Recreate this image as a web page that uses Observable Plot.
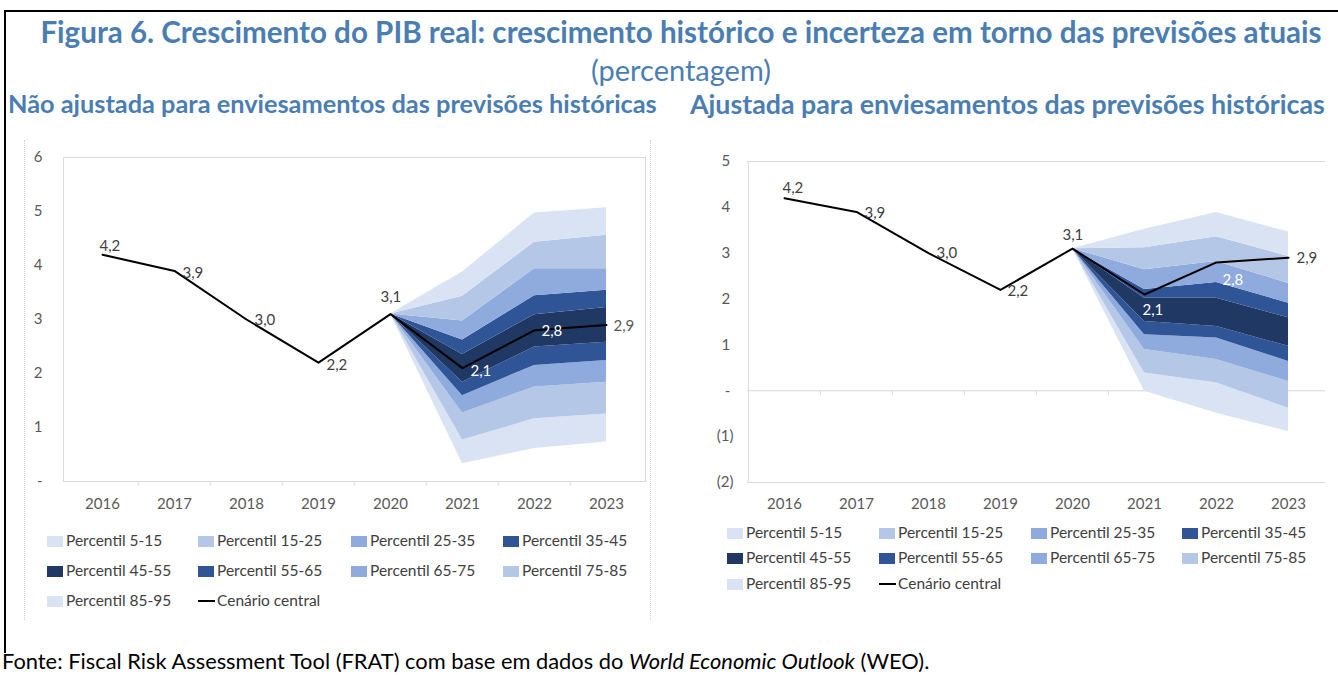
<!DOCTYPE html>
<html>
<head>
<meta charset="utf-8">
<script src="https://cdn.jsdelivr.net/npm/d3@7"></script>
<script src="https://cdn.jsdelivr.net/npm/@observablehq/plot@0.6"></script>
<style>
  html, body { margin:0; padding:0; background:#fff; }
  #root { position:relative; width:1338px; height:675px; overflow:hidden; background:#fff; font-family: Lato, "Open Sans", sans-serif; }
  .t { position:absolute; white-space:nowrap; line-height:1.15; }
  .leg { position:absolute; font-size:15.5px; color:#404040; white-space:nowrap; line-height:1.15; }
</style>
</head>
<body>
<div id="root"></div>
<script>
// ---------------- DATA ----------------
const years = [2016, 2017, 2018, 2019, 2020, 2021, 2022, 2023];
const central = [4.2, 3.9, 3.0, 2.2, 3.1, 2.1, 2.8, 2.9];
const fanYears = [2020, 2021, 2022, 2023];

// Left chart: not adjusted for historical forecast bias (percentile edges)
const leftP5  = [3.1, 0.33, 0.61, 0.73];
const leftP15 = [3.1, 0.77, 1.16, 1.25];
const leftP25 = [3.1, 1.27, 1.75, 1.84];
const leftP35 = [3.1, 1.59, 2.15, 2.24];
const leftP45 = [3.1, 1.84, 2.49, 2.58];
const leftP55 = [3.1, 2.35, 3.09, 3.22];
const leftP65 = [3.1, 2.62, 3.44, 3.54];
const leftP75 = [3.1, 2.97, 3.94, 3.94];
const leftP85 = [3.1, 3.43, 4.43, 4.56];
const leftP95 = [3.1, 3.88, 4.97, 5.07];

// Right chart: adjusted for historical forecast bias
const rightP5  = [3.1, -0.01, -0.49, -0.89];
const rightP15 = [3.1, 0.39, 0.17, -0.38];
const rightP25 = [3.1, 0.90, 0.68, 0.20];
const rightP35 = [3.1, 1.22, 1.15, 0.64];
const rightP45 = [3.1, 1.51, 1.40, 0.97];
const rightP55 = [3.1, 2.02, 2.02, 1.59];
const rightP65 = [3.1, 2.21, 2.36, 1.91];
const rightP75 = [3.1, 2.64, 2.82, 2.34];
const rightP85 = [3.1, 3.12, 3.36, 2.93];
const rightP95 = [3.1, 3.52, 3.89, 3.46];

const bandLabels = ["Percentil 5-15", "Percentil 15-25", "Percentil 25-35", "Percentil 35-45",
  "Percentil 45-55", "Percentil 55-65", "Percentil 65-75", "Percentil 75-85", "Percentil 85-95"];
const lineLabel = "Cenário central";
const leftYTicks = [0, 1, 2, 3, 4, 5, 6];
const rightYTicks = [-2, -1, 0, 1, 2, 3, 4, 5];

const titleText = "Figura 6. Crescimento do PIB real: crescimento histórico e incerteza em torno das previsões atuais";
const unitText = "(percentagem)";
const leftTitle = "Não ajustada para enviesamentos das previsões históricas";
const rightTitle = "Ajustada para enviesamentos das previsões históricas";
const sourceHtml = "Fonte: Fiscal Risk Assessment Tool (FRAT) com base em dados do <i>World Economic Outlook</i> (WEO).";

// ---------------- STYLE ----------------
const bandColors = ["#dae3f3", "#b4c7e7", "#8faadc", "#2f5597", "#203864", "#2f5597", "#8faadc", "#b4c7e7", "#dae3f3"];
const titleColor = "#4a7eb3";
const textGray = "#595959";
const font = "Lato, 'Open Sans', sans-serif";

const root = document.getElementById("root");

function addText(html, opts) {
  const d = document.createElement("div");
  d.className = "t";
  d.innerHTML = html;
  Object.assign(d.style, opts.style || {});
  root.appendChild(d);
  if (opts.width) {
    let fs = parseFloat(d.style.fontSize);
    const w = d.getBoundingClientRect().width;
    d.style.fontSize = (fs * opts.width / w) + "px";
  }
  const r = d.getBoundingClientRect();
  const left = opts.cx !== undefined ? opts.cx - r.width / 2 : opts.x;
  d.style.left = left + "px";
  d.style.top = (opts.cy - r.height / 2) + "px";
  return d;
}

function addDiv(style) {
  const d = document.createElement("div");
  d.style.position = "absolute";
  Object.assign(d.style, style);
  root.appendChild(d);
  return d;
}

// outer border
addDiv({left: "4px", top: "10px", width: "1340px", height: "2px", background: "#000"});
addDiv({left: "4px", top: "10px", width: "2px", height: "643px", background: "#000"});
// faint dotted chart-area borders (left chart)
addDiv({left: "24px", top: "140px", width: "0px", height: "480px", borderLeft: "1px dotted #d0d0d0"});
addDiv({left: "650px", top: "140px", width: "0px", height: "480px", borderLeft: "1px dotted #d0d0d0"});

// titles
addText(titleText, {cx: 681, cy: 32, width: 1282, style: {fontSize: "24px", fontWeight: "700", color: titleColor}});
addText(unitText, {cx: 681, cy: 70, width: 180, style: {fontSize: "22px", fontWeight: "400", color: titleColor}});
addText(leftTitle, {x: 8, cy: 104, width: 649, style: {fontSize: "21px", fontWeight: "700", color: titleColor}});
addText(rightTitle, {x: 690, cy: 104, width: 635, style: {fontSize: "21px", fontWeight: "700", color: titleColor}});
addText(sourceHtml, {x: 2, cy: 661, width: 928, style: {fontSize: "17px", color: "#000"}});

const yearFmt = d => String(d);
const valueFmt = v => d3.format(".1f")(v).replace(".", ",");

function makeChart(cfg) {
  const {edges, yDomain, yTicks, yFormat, width, height, marginLeft, marginRight, marginTop, marginBottom,
         labelPlacement, yPad, xPad, fullFrame, zeroLine} = cfg;
  const step = (width - marginLeft - marginRight) / years.length;
  const marks = [];
  if (fullFrame) marks.push(Plot.frame({stroke: "#d9d9d9"}));
  else {
    marks.push(Plot.ruleY([yDomain[0], yDomain[1]], {stroke: "#d9d9d9"}));
    marks.push(Plot.ruleX([years[0]], {x: d => d, dx: -step / 2, stroke: "#d9d9d9"}));
  }
  if (zeroLine) marks.push(Plot.ruleY([0], {stroke: "#d9d9d9"}));
  const axisY0 = zeroLine ? 0 : yDomain[0];
  marks.push(Plot.ruleX(years.slice(1).map(x => ({x, y: axisY0})),
    {x: "x", y1: "y", y2: "y", dx: -step / 2, insetBottom: -5, stroke: "#d9d9d9"}));
  for (let i = 0; i < 9; i++) {
    const rows = fanYears.map((x, j) => ({x, lo: edges[i][j], hi: edges[i + 1][j]}));
    marks.push(Plot.areaY(rows, {x: "x", y1: "lo", y2: "hi", fill: bandColors[i], curve: "linear"}));
  }
  const lineRows = years.map((x, i) => ({x, y: central[i]}));
  marks.push(Plot.line(lineRows, {x: "x", y: "y", stroke: "#000", strokeWidth: 2, curve: "linear"}));
  lineRows.forEach((d, i) => {
    const p = labelPlacement[i];
    marks.push(Plot.text([d], {
      x: "x", y: "y", text: r => valueFmt(r.y),
      dx: p[0], dy: p[1], textAnchor: "start", fill: p[2], fontSize: 15
    }));
  });
  marks.push(Plot.axisX({tickSize: 0, tickPadding: xPad, fontSize: 15, tickFormat: yearFmt, label: null}));
  marks.push(Plot.axisY({ticks: yTicks, tickFormat: yFormat, tickSize: 0, tickPadding: yPad, fontSize: 15, label: null}));
  return Plot.plot({
    width, height, marginLeft, marginRight, marginTop, marginBottom,
    x: {type: "point", domain: years, padding: 0.5, label: null},
    y: {domain: yDomain, label: null},
    style: {fontFamily: font, fontSize: "15px", color: textGray, background: "transparent", overflow: "visible"},
    marks
  });
}

// label placement: [dx, dy, colour]
const leftPlacement = [
  [-3, -9, "#404040"], [8, 2, "#404040"], [8, 1, "#404040"], [8, 2, "#404040"],
  [-10, -17, "#404040"], [8, 3, "#ffffff"], [7, 1, "#ffffff"], [7, 1, "#595959"]
];
const rightPlacement = [
  [-2, -10, "#404040"], [8, 1, "#404040"], [8, 0, "#404040"], [7, 1, "#404040"],
  [-10, -13, "#404040"], [-2, 16, "#ffffff"], [6, 18, "#ffffff"], [8, 0, "#404040"]
];

function fmtLeft(d) { return d === 0 ? "-" : String(d); }
function fmtRight(d) { return d === 0 ? "-\u2008" : d < 0 ? "(" + (-d) + ")" : d + "\u2008"; }

function buildChart(cfg, left, top) {
  const svg = makeChart(cfg);
  svg.style.position = "absolute";
  svg.style.left = left + "px";
  svg.style.top = top + "px";
  root.appendChild(svg);
}

buildChart({
  edges: [leftP5, leftP15, leftP25, leftP35, leftP45, leftP55, leftP65, leftP75, leftP85, leftP95],
  yDomain: [0, 6], yTicks: leftYTicks, yFormat: fmtLeft,
  width: 660, height: 390, marginLeft: 63, marginRight: 15, marginTop: 27, marginBottom: 39,
  labelPlacement: leftPlacement, yPad: 21, xPad: 17, fullFrame: true, zeroLine: false
}, 0, 130);

buildChart({
  edges: [rightP5, rightP15, rightP25, rightP35, rightP45, rightP55, rightP65, rightP75, rightP85, rightP95],
  yDomain: [-2, 5], yTicks: rightYTicks, yFormat: fmtRight,
  width: 658, height: 390, marginLeft: 67, marginRight: 13, marginTop: 31, marginBottom: 38,
  labelPlacement: rightPlacement, yPad: 14, xPad: 16, fullFrame: false, zeroLine: true
}, 680, 130);

// legends
function legend(x0s, ys) {
  const items = bandLabels.map((t, i) => ({t, c: bandColors[i]})).concat([{t: lineLabel, line: true}]);
  items.forEach((it, i) => {
    const col = i % 4, row = Math.floor(i / 4);
    const x = x0s[col], y = ys[row];
    if (it.line) addDiv({left: x + "px", top: (y - 1) + "px", width: "17px", height: "2px", background: "#000"});
    else addDiv({left: x + "px", top: (y - 5) + "px", width: "16px", height: "11px", background: it.c});
    const d = document.createElement("div");
    d.className = "leg";
    d.textContent = it.t;
    root.appendChild(d);
    const r = d.getBoundingClientRect();
    d.style.left = (x + 19) + "px";
    d.style.top = (y - r.height / 2) + "px";
  });
}
legend([47, 198, 351, 503], [541, 571, 601]);
legend([727, 879, 1031, 1182], [533, 558, 584]);
</script>
</body>
</html>
